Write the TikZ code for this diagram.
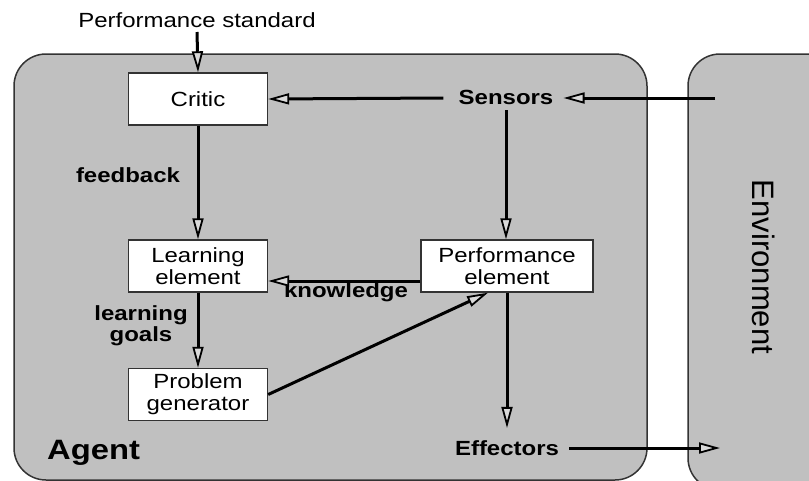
\documentclass[tikz,border=0pt]{standalone}
\usepackage{fontspec}
\setmainfont{Liberation Sans}[FakeStretch=1.17]
\newfontfamily\envfont{Liberation Sans}
\usetikzlibrary{arrows.meta}
\definecolor{panel}{HTML}{C0C0C0}
\definecolor{edge}{HTML}{333333}
\tikzset{
  panelbox/.style={fill=panel, draw=edge, line width=1.5pt, rounded corners=32pt},
  unit/.style={draw=edge, fill=white, line width=1.4pt, minimum width=139pt, minimum height=52pt,
    align=center, inner sep=0pt, font=\fontsize{20.5}{22}\selectfont},
  lbl/.style={font=\bfseries\fontsize{20.5}{19}\selectfont, inner sep=0pt, anchor=base, align=center},
  flow/.style={line width=3pt, -{Triangle[open, length=21pt, width=11pt, fill=panel!60!white, line width=1.8pt]}},
}
\begin{document}
\begin{tikzpicture}[x=1pt, y=-1pt]
  \useasboundingbox (0,0) rectangle (809,480);
  \clip (0,0) rectangle (809,480);
  % agent and environment panels
  \draw[panelbox] (14,54) rectangle (647,480);
  \draw[panelbox] (688,54) rectangle (840,490);
  \node[font=\bfseries\fontsize{28}{30}\selectfont, anchor=base west, inner sep=0pt] (agent) at (47,459) {Agent};
  \node[font=\envfont\fontsize{31}{32}\selectfont, rotate=-90, inner sep=0pt] (env) at (764,267) {Environment};
  % components
  \node[unit] (critic) at (198,99) {Critic};
  \node[unit] (learn) at (198,266) {Learning\\element};
  \node[unit] (probgen) at (198,394.5) {Problem\\generator};
  \node[unit, minimum width=172pt] (perf) at (507,266) {Performance\\element};
  % labels
  \node[font=\fontsize{20.5}{22}\selectfont, inner sep=0pt, anchor=base] (standard) at (197,27) {Performance standard};
  \node[lbl] (sensors) at (506,104) {Sensors};
  \node[lbl] (effectors) at (507,455) {Effectors};
  \node[lbl] (feedback) at (128,182) {feedback};
  \node[lbl] (knowledge) at (346,297) {knowledge};
  \node[lbl] (goals) at (141,341) {learning\\goals};
  \coordinate (envin) at (715,98);
  \coordinate (envout) at (720,448);
  % connectors
  \draw[flow] (standard.south |- 0,32) -- (critic.north);
  \draw[flow] (envin) -- ([xshift=10pt]sensors.east |- envin);
  \draw[flow] ([xshift=-15pt]sensors.west |- envin) -- (critic.east);
  \draw[flow] (sensors.south |- 0,110) -- (sensors.south |- perf.north);
  \draw[flow] (critic) -- (learn);
  \draw[flow] (learn) -- (probgen);
  \draw[flow] ([yshift=-15pt]perf.west) -- ([yshift=-15pt]learn.east);
  \draw[flow] (probgen.east) -- ([xshift=-19pt]perf.south);
  \draw[flow] (perf.south) -- ([yshift=12pt]effectors.north);
  \draw[flow] ([xshift=10pt]effectors.east |- envout) -- (envout);
\end{tikzpicture}
\end{document}
